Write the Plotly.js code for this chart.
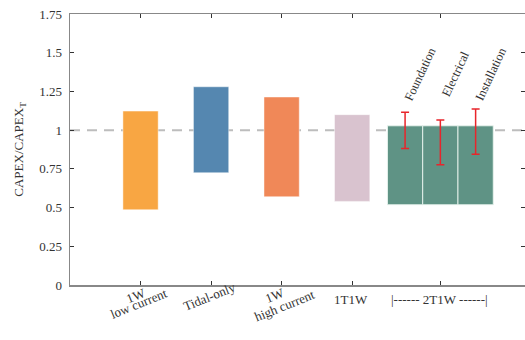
<!DOCTYPE html>
<html>
<head>
<meta charset="utf-8">
<script src="https://cdn.plot.ly/plotly-3.0.1.min.js"></script>
<style>html,body{margin:0;padding:0;background:#fff;}#chart{width:525px;height:340px;}</style>
</head>
<body>
<div id="chart"></div>
<script>
// ---- data ----
const categories = ["1W<br>low current", "Tidal-only", "1W<br>high current", "1T1W"];
const catLows  = [0.486, 0.725, 0.570, 0.540];
const catHighs = [1.123, 1.280, 1.214, 1.100];

const groupLabel = "|------ 2T1W ------|";
const components = ["Foundation", "Electrical", "Installation"];
const compLows  = [0.518, 0.518, 0.518];
const compHighs = [1.028, 1.028, 1.028];
const errLows  = [0.882, 0.777, 0.844];
const errHighs = [1.115, 1.065, 1.136];

const refValue = 1;
const yTicks = [0, 0.25, 0.5, 0.75, 1, 1.25, 1.5, 1.75];
const yTickText = ["0", "0.25", "0.5", "0.75", "1", "1.25", "1.5", "1.75"];

// ---- style ----
const catColors = ["#F8A643", "#5587B0", "#F08858", "#D9C3CF"];
const compColor = "#5F9385";
const font = "Liberation Serif";
const txt = "#333333";

const catX = categories.map((_, i) => i + 1);
const groupCenter = catX.length + 1.25;
const compX = components.map((_, i) => groupCenter - 0.5 + i * 0.5);

const traces = [];
traces.push({
  type: "bar", x: catX, base: catLows,
  y: catHighs.map((h, i) => h - catLows[i]),
  width: 0.5,
  marker: {color: catColors, line: {color: "rgba(255,255,255,0.45)", width: 1}},
  hoverinfo: "skip"
});
traces.push({
  type: "bar", x: compX, base: compLows,
  y: compHighs.map((h, i) => h - compLows[i]),
  width: 0.5,
  marker: {color: compColor, line: {color: "rgba(235,245,240,0.9)", width: 1}},
  hoverinfo: "skip"
});
traces.push({
  type: "scatter", mode: "markers", x: compX,
  y: errLows.map((l, i) => (l + errHighs[i]) / 2),
  marker: {size: 0.1, color: "rgba(0,0,0,0)"},
  error_y: {type: "data", symmetric: true,
    array: errLows.map((l, i) => (errHighs[i] - l) / 2),
    color: "#E8252B", thickness: 1.5, width: 4},
  hoverinfo: "skip"
});

// label placement (per line): [dx, paperY, angle]
const labelLines = [
  [[-0.063, -0.037, -22], [-0.021, -0.070, -22]],
  [[-0.02, -0.042, -22]],
  [[-0.10, -0.037, -22], [0.045, -0.077, -22]],
  [[-0.01, -0.055, 0]]
];
const annotations = [];
categories.forEach((c, i) => {
  c.split("<br>").forEach((line, j) => {
    const p = labelLines[i][j];
    annotations.push({
      x: catX[i] + p[0], xref: "x", y: p[1], yref: "paper",
      text: line, showarrow: false, textangle: p[2],
      xanchor: "center", yanchor: "middle",
      font: {family: font, size: 13, color: txt}
    });
  });
});
annotations.push({
  x: groupCenter - 0.01, xref: "x", y: -0.055, yref: "paper",
  text: groupLabel, showarrow: false,
  xanchor: "center", yanchor: "middle",
  font: {family: font, size: 13, color: txt}
});
components.forEach((c, i) => {
  annotations.push({
    x: compX[i] + 0.22, xref: "x", y: 1.36, yref: "y",
    text: c, showarrow: false, textangle: -65,
    xanchor: "center", yanchor: "middle",
    font: {family: font, size: 12.5, color: txt}
  });
});

const layout = {
  width: 525, height: 340,
  margin: {l: 70, r: 0, t: 14, b: 55},
  paper_bgcolor: "#ffffff", plot_bgcolor: "#ffffff",
  showlegend: false,
  barmode: "overlay",
  xaxis: {
    range: [0, 6.45], tickvals: catX.concat([groupCenter]),
    showticklabels: false,
    ticks: "inside", ticklen: 4, tickcolor: "#333", tickwidth: 1,
    showline: true, linecolor: "#888", linewidth: 1.5, mirror: "ticks",
    showgrid: false, zeroline: false, fixedrange: true
  },
  yaxis: {
    range: [0, 1.75], tickvals: yTicks, ticktext: yTickText,
    ticks: "inside", ticklen: 4, tickcolor: "#333", tickwidth: 1,
    showline: true, linecolor: "#888", linewidth: 1.5, mirror: "ticks",
    showgrid: false, zeroline: false, ticklabelstandoff: 4,
    tickfont: {family: font, size: 13, color: txt},
    title: {text: "CAPEX/CAPEX<sub>T</sub>", font: {family: font, size: 13, color: txt}, standoff: 12}
  },
  shapes: [{
    type: "line", xref: "paper", x0: 0, x1: 1, yref: "y", y0: refValue, y1: refValue,
    line: {color: "#BDBDBD", width: 2, dash: "10px,7px"}, layer: "below"
  }],
  annotations: annotations
};

Plotly.newPlot("chart", traces, layout, {staticPlot: true, displayModeBar: false});
</script>
</body>
</html>
